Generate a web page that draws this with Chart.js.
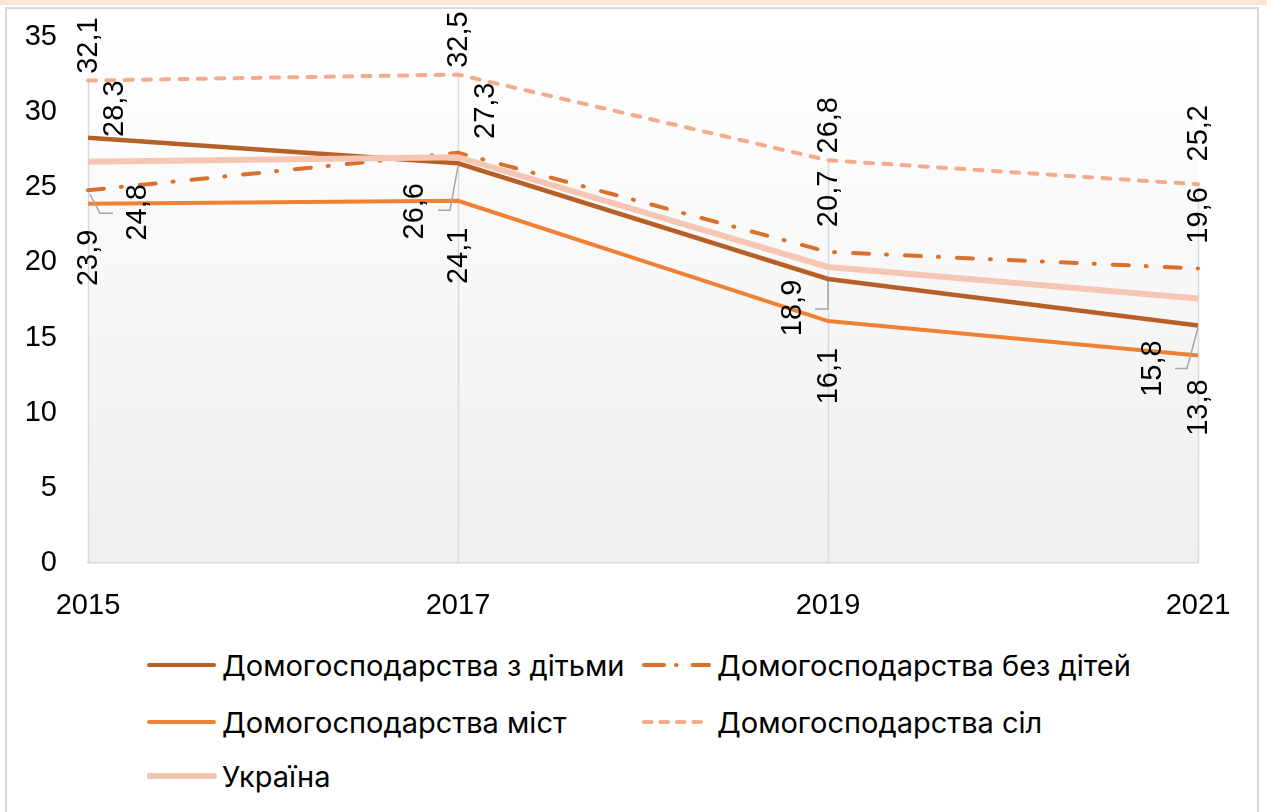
<!DOCTYPE html>
<html><head><meta charset="utf-8">
<script src="https://cdn.jsdelivr.net/npm/chart.js@4.4.1/dist/chart.umd.min.js"></script>
<style>
html,body{margin:0;padding:0;background:#fff;width:1267px;height:812px;overflow:hidden;}
#topbar{position:absolute;left:0;top:0;width:1267px;height:5px;background:#fbe5d6;}
#frame{position:absolute;left:5px;top:7px;width:1254px;height:820px;border:2px solid #d9d9d9;box-sizing:border-box;}
#wrap{position:absolute;left:0;top:0;width:1267px;height:640px;}
.leg{position:absolute;display:flex;align-items:center;font-family:Inter,"Liberation Sans",sans-serif;font-size:29px;color:#000;white-space:nowrap;}
.leg svg{margin-right:5px;}
</style></head>
<body>
<div id="topbar"></div>
<div id="frame"></div>
<div id="wrap"><canvas id="c" width="1267" height="640"></canvas></div>
<div id="legend"></div>
<script>
const years = ['2015','2017','2019','2021'];
const withChildren = [28.3, 26.6, 18.9, 15.8];
const withoutChildren = [24.8, 27.3, 20.7, 19.6];
const urban = [23.9, 24.1, 16.1, 13.8];
const rural = [32.1, 32.5, 26.8, 25.2];
const ukraine = [26.7, 27.0, 19.7, 17.6];
const yTicks = [0,5,10,15,20,25,30,35];

const names = ['Домогосподарства з дітьми','Домогосподарства без дітей','Домогосподарства міст','Домогосподарства сіл','Україна'];
const colors = ['#b65f27','#d8712d','#ef8034','#f4ab8c','#f6c6b5'];

// label placement (style): [datasetIndex, pointIndex, dx, dy, leader]
const labelPos = [
  [3,0,0,-35],[0,0,26,-29],[1,0,49,22,[[2,4],[12,23],[25,23]]],[2,0,0,54],
  [3,1,0,-35],[1,1,27,-42],[0,1,-44,48,[[0,3],[-8,47],[-20,47]]],[2,1,0,55],
  [3,2,0,-35],[1,2,0,-53],[0,2,-36,29,[[0,2],[0,30],[-13,30]]],[2,2,0,55],
  [3,3,0,-51],[1,3,0,-53],[0,3,-46,43,[[0,2],[-11,43],[-23,43]]],[2,3,0,52]
];
const FONT = '"Liberation Sans", Arial, sans-serif';

const bgPlugin = {
  id:'bg',
  beforeDraw(chart){
    const {ctx, chartArea:a} = chart;
    const g = ctx.createLinearGradient(0,a.top,0,a.bottom);
    g.addColorStop(0,'#ffffff'); g.addColorStop(1,'#efefef');
    ctx.save(); ctx.fillStyle=g; ctx.fillRect(a.left,a.top,a.right-a.left,a.bottom-a.top); ctx.restore();
  },
  beforeDatasetsDraw(chart){
    const {ctx, scales:{x,y}} = chart;
    ctx.save(); ctx.strokeStyle='#d9d9d9'; ctx.lineWidth=1.5;
    years.forEach((yr,i)=>{
      const m = Math.max(withChildren[i],withoutChildren[i],urban[i],rural[i],ukraine[i]);
      const px = Math.round(x.getPixelForValue(i))+0.5;
      ctx.beginPath(); ctx.moveTo(px,y.getPixelForValue(m)); ctx.lineTo(px,y.getPixelForValue(0)); ctx.stroke();
    });
    ctx.restore();
  },
  afterDatasetsDraw(chart){
    const {ctx, scales:{x,y}} = chart;
    ctx.save();
    labelPos.forEach(([d,i,dx,dy,leader])=>{
      const v = chart.data.datasets[d].data[i];
      const px = x.getPixelForValue(i), py = y.getPixelForValue(v);
      if(leader){
        ctx.strokeStyle='#a6a6a6'; ctx.lineWidth=1.5; ctx.beginPath();
        leader.forEach(([lx,ly],k)=>{ k?ctx.lineTo(px+lx,py+ly):ctx.moveTo(px+lx,py+ly); });
        ctx.stroke();
      }
      ctx.save();
      ctx.translate(px+dx,py+dy); ctx.rotate(-Math.PI/2);
      ctx.font='29px '+FONT; ctx.fillStyle='#000';
      ctx.textAlign='center'; ctx.textBaseline='middle';
      ctx.fillText(v.toFixed(1).replace('.',','),0,1);
      ctx.restore();
    });
    ctx.restore();
  }
};

const seriesData = [withChildren, withoutChildren, urban, rural, ukraine];
const dashes = [[],[16,17,1,18],[],[8,10.3],[]];
const widths = [4.5,4,4,4,6];
const orders = [2,3,4,5,1];

new Chart(document.getElementById('c'),{
  type:'line',
  data:{labels:years, datasets: seriesData.map((d,k)=>({
    label:names[k], data:d, borderColor:colors[k], backgroundColor:colors[k],
    borderWidth:widths[k], borderDash:dashes[k], borderCapStyle: k===1||k===3?'round':'butt',
    pointRadius:0, tension:0, fill:false, order:orders[k]
  }))},
  options:{
    responsive:false, animation:false,
    layout:{padding:{top:37,right:69,left:0,bottom:0}},
    plugins:{legend:{display:false},tooltip:{enabled:false}},
    scales:{
      x:{offset:false, grid:{display:false,drawTicks:false}, border:{color:'#d9d9d9',width:1.5},
         ticks:{padding:26,color:'#000',font:{family:FONT,size:29},maxRotation:0},
         afterFit(s){s.height=77;}},
      y:{min:0,max:35, grid:{display:false,drawTicks:false}, border:{display:false},
         afterBuildTicks(s){s.ticks=yTicks.map(v=>({value:v}));},
         ticks:{padding:31,color:'#000',font:{family:FONT,size:29}},
         afterFit(s){s.width=88; s.paddingTop=0; s.paddingBottom=0;}}
    }
  },
  plugins:[bgPlugin]
});

// legend
const legPos = [[0,147,665],[1,642,665],[2,147,722],[3,642,722],[4,147,776]];
const L = document.getElementById('legend');
legPos.forEach(([k,lx,ly])=>{
  const div=document.createElement('div'); div.className='leg';
  div.style.left=lx+'px'; div.style.top=(ly-20)+'px'; div.style.height='40px';
  const dash = k===1?'stroke-dasharray="20 12 0.5 16"':(k===3?'stroke-dasharray="7.5 9"':'');
  div.innerHTML=`<svg width="70" height="12"><line x1="2" y1="6" x2="67" y2="6" stroke="${colors[k]}" stroke-width="${k===4?6:4}" stroke-linecap="round" ${dash}/></svg><span>${names[k]}</span>`;
  L.appendChild(div);
});
</script>
</body></html>
